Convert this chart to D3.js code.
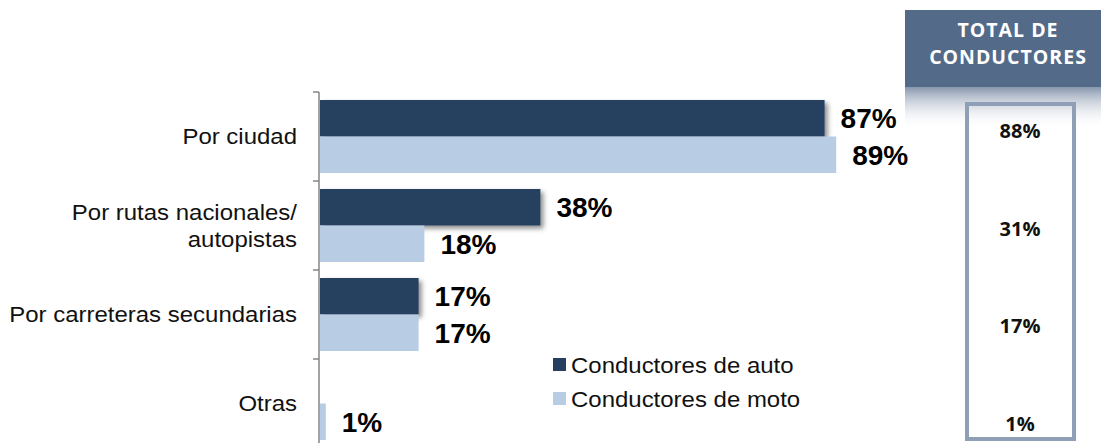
<!DOCTYPE html>
<html>
<head>
<meta charset="utf-8">
<script src="https://cdn.jsdelivr.net/npm/d3@7"></script>
<style>
  body { margin: 0; background: #fff; }
  svg { display: block; }
</style>
</head>
<body>
<svg width="1101" height="443"></svg>
<script>
const categories = ["Por ciudad", "Por rutas nacionales/\nautopistas", "Por carreteras secundarias", "Otras"];
const series = ["Conductores de auto", "Conductores de moto"];
const auto = [87, 38, 17, null];
const moto = [89, 18, 17, 1];
const totals = ["88%", "31%", "17%", "1%"];
const colors = ["#263f60", "#b8cce4"];

const svg = d3.select("svg");
const width = 1101, height = 443;

const defs = svg.append("defs");
const shadow = defs.append("filter").attr("id", "shadow")
    .attr("x", "-5%").attr("y", "-20%").attr("width", "115%").attr("height", "150%");
shadow.append("feDropShadow")
    .attr("dx", 3).attr("dy", 3).attr("stdDeviation", 2.5)
    .attr("flood-color", "#000").attr("flood-opacity", 0.45);

const grad = defs.append("linearGradient").attr("id", "fade")
    .attr("x1", 0).attr("y1", 0).attr("x2", 0).attr("y2", 1);
grad.append("stop").attr("offset", "0%").attr("stop-color", "#8797ad");
grad.append("stop").attr("offset", "100%").attr("stop-color", "#ffffff").attr("stop-opacity", 0);

// main chart
const x = d3.scaleLinear().domain([0, 100]).range([320, 900]);
const y = d3.scaleBand().domain(d3.range(categories.length)).range([92, 448]).paddingInner(0.18).paddingOuter(0.09);
const yTick = d3.scaleBand().domain(d3.range(categories.length)).range([92, 448]);

const g = svg.append("g");

// axis line + ticks at the band edges
const ax = svg.append("g").attr("transform", "translate(319,0)");
ax.append("line").attr("x1", 0).attr("x2", 0).attr("y1", 92).attr("y2", 443)
    .attr("stroke", "#868686").attr("stroke-width", 1.5);
d3.range(categories.length).forEach(i => {
  ax.append("line").attr("x1", -6).attr("x2", 0)
    .attr("y1", yTick(i)).attr("y2", yTick(i))
    .attr("stroke", "#868686").attr("stroke-width", 1.5);
});

const sub = d3.scaleBand().domain([0, 1]).range([0, y.bandwidth()]);

[auto, moto].forEach((vals, s) => {
  vals.forEach((v, i) => {
    if (v == null) return;
    g.append("rect")
      .attr("x", x(0))
      .attr("y", y(i) + sub(s))
      .attr("width", x(v) - x(0))
      .attr("height", sub.bandwidth())
      .attr("fill", colors[s])
      .attr("filter", s === 0 ? "url(#shadow)" : null);
  });
});

[auto, moto].forEach((vals, s) => {
  vals.forEach((v, i) => {
    if (v == null) return;
    g.append("text")
      .attr("x", x(v) + 16)
      .attr("y", y(i) + sub(s) + sub.bandwidth() / 2)
      .attr("dy", "0.36em")
      .attr("font-family", "Liberation Sans, Arial, sans-serif")
      .attr("font-weight", "bold")
      .attr("font-size", 28)
      .attr("fill", "#000")
      .text(v + "%");
  });
});

// category labels (slightly stretched like the original)
categories.forEach((c, i) => {
  const lines = c.split("\n");
  const cy = y(i) + y.bandwidth() / 2;
  const t = svg.append("text")
    .attr("transform", `translate(297,${cy}) scale(1.09,1)`)
    .attr("text-anchor", "end")
    .attr("font-family", "Liberation Sans, Arial, sans-serif")
    .attr("font-size", 22)
    .attr("fill", "#111");
  lines.forEach((l, k) => {
    t.append("tspan").attr("x", 0)
      .attr("y", (k - (lines.length - 1) / 2) * 27)
      .attr("dy", "0.35em")
      .text(l);
  });
});

// legend
const legend = svg.append("g").attr("transform", "translate(553,358)");
series.forEach((s, i) => {
  const lg = legend.append("g").attr("transform", `translate(0,${i * 34})`);
  lg.append("rect").attr("width", 13).attr("height", 13).attr("fill", colors[i]);
  lg.append("text").attr("transform", "translate(18,7) scale(1.09,1)").attr("dy", "0.35em")
    .attr("font-family", "Liberation Sans, Arial, sans-serif")
    .attr("font-size", 22).attr("fill", "#111").text(s);
});

// total panel
const panel = svg.append("g");
panel.append("rect").attr("x", 905).attr("y", 87).attr("width", 196).attr("height", 42).attr("fill", "url(#fade)");
panel.append("path")
  .attr("d", "M905,10 H1101 V87 H905 Z")
  .attr("fill", "#536a88");
["TOTAL DE", "CONDUCTORES"].forEach((l, k) => {
  panel.append("text")
    .attr("x", 1008).attr("y", 37 + k * 27)
    .attr("text-anchor", "middle")
    .attr("font-family", "Open Sans, Liberation Sans, sans-serif")
    .attr("font-weight", "bold")
    .attr("font-size", 19.5)
    .attr("letter-spacing", 1)
    .attr("fill", "#fff")
    .text(l);
});

panel.append("rect")
  .attr("x", 967).attr("y", 104).attr("width", 107).attr("height", 335)
  .attr("fill", "none").attr("stroke", "#8fa0b6").attr("stroke-width", 4);

const yt = d3.scalePoint().domain(d3.range(totals.length)).range([131, 424]);
totals.forEach((t, i) => {
  panel.append("text")
    .attr("x", 1020).attr("y", yt(i)).attr("dy", "0.35em")
    .attr("text-anchor", "middle")
    .attr("font-family", "Open Sans, Liberation Sans, sans-serif")
    .attr("font-weight", "bold")
    .attr("font-size", 20)
    .attr("fill", "#111")
    .text(t);
});
</script>
</body>
</html>
